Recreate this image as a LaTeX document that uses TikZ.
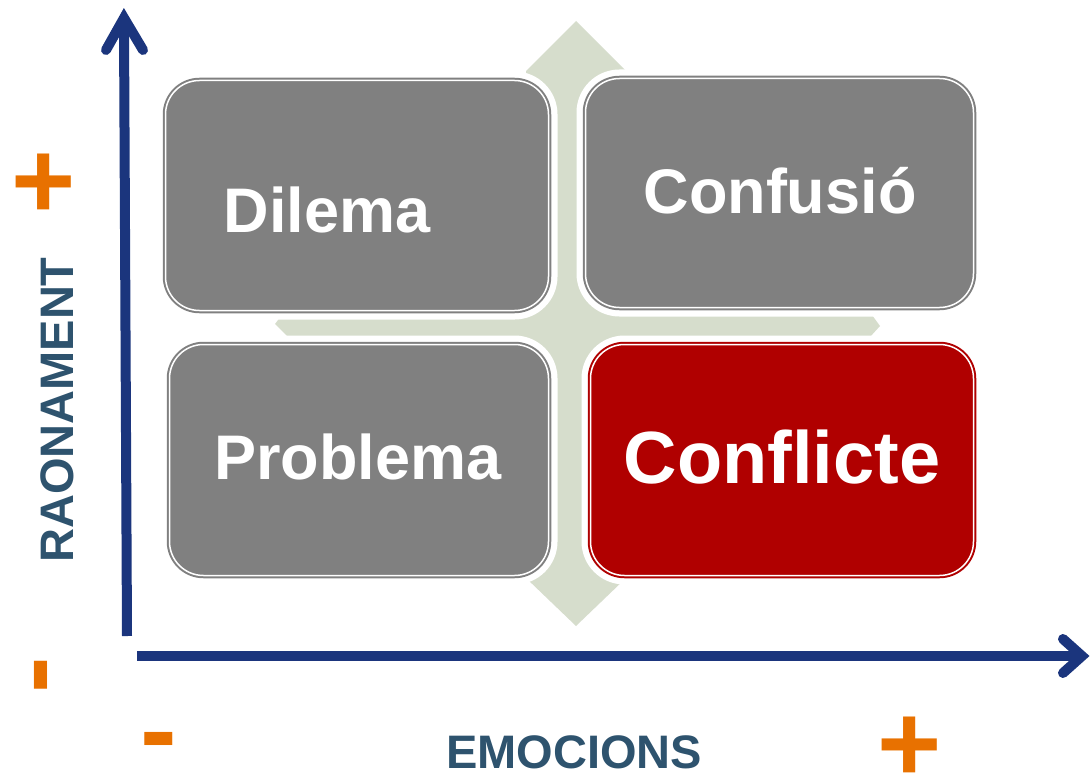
\documentclass[tikz,border=0pt]{standalone}
\usepackage{fontspec}
\setmainfont{Liberation Sans}
\usetikzlibrary{calc}
\definecolor{axisblue}{RGB}{27,53,125}
\definecolor{labelblue}{RGB}{46,83,110}
\definecolor{signorange}{RGB}{232,113,0}
\definecolor{boxgray}{RGB}{128,128,128}
\definecolor{boxred}{RGB}{176,0,0}
\definecolor{crossgreen}{RGB}{214,221,204}
\tikzset{
  quadbox/.style={rectangle, rounded corners=34pt, inner sep=0pt,
    fill=#1, draw=#1, double=white, double distance=1.5pt, line width=2pt,
    preaction={draw=white, line width=18pt}},
  quadtext/.style={text=white, font=\bfseries\fontsize{63pt}{63pt}\selectfont,
    anchor=base, inner sep=0pt},
  axisline/.style={draw=axisblue, line width=10pt},
  axishead/.style={draw=axisblue, line width=10pt, line cap=round, line join=miter},
  axislabel/.style={text=labelblue, font=\bfseries\fontsize{47pt}{47pt}\selectfont,
    anchor=base, inner sep=0pt},
  sign/.style={text=signorange, font=\bfseries\fontsize{110pt}{110pt}\selectfont,
    anchor=base, inner sep=0pt}
}
\begin{document}
\begin{tikzpicture}[x=1pt, y=-1pt]
\useasboundingbox (0,0) rectangle (1090,773);
% background cross
\fill[crossgreen] (576,21) -- (626,71) -- (626,578) -- (576,626) -- (526,578) -- (526,71) -- cycle;
\fill[crossgreen] (281,316) -- (872,315) -- (880,326) -- (870,337) -- (288,337) -- (275,324) -- cycle;
% quadrant boxes
\node[quadbox=boxgray, minimum width=383pt, minimum height=230pt] (dilemabox) at (357,195.5) {};
\node[quadbox=boxgray, minimum width=388pt, minimum height=229pt] (confusiobox) at (779.5,193) {};
\node[quadbox=boxgray, minimum width=379pt, minimum height=231pt] (problemabox) at (359,460) {};
\node[quadbox=boxred, minimum width=383pt, minimum height=231pt] (conflictebox) at (782,460) {};
% texts
\node[quadtext] (dilema) at (327,232) {Dilema};
\node[quadtext] (confusio) at (780,213) {Confusió};
\node[quadtext] (problema) at (358,479) {Problema};
\node[quadtext, font=\bfseries\fontsize{74pt}{74pt}\selectfont] (conflicte) at (782,483) {Conflicte};
% axes
\coordinate (yfoot) at (127,636);
\coordinate (ytip) at (124,18);
\draw[axisline] (yfoot) -- ($(ytip)+(0,8)$);
\draw[axishead] ($(ytip)+(-18,32)$) -- (ytip) -- ($(ytip)+(19,32)$);
\coordinate (xfoot) at (137,656);
\coordinate (xtip) at (1082,656);
\draw[axisline] (xfoot) -- ($(xtip)+(-8,0)$);
\draw[axishead] ($(xtip)+(-19,-17)$) -- (xtip) -- ($(xtip)+(-19,17)$);
% axis labels
\node[axislabel, rotate=90] (raonament) at (73,410) {RAONAMENT};
\node[axislabel] (emocions) at (574,768) {EMOCIONS};
% signs
\node[sign] (plusR) at (44,218) {+};
\node[sign, rotate=90] (minusR) at (69,675) {-};
\node[sign] (minusE) at (159,767) {-};
\node[sign] (plusE) at (909.5,781) {+};
\end{tikzpicture}
\end{document}
